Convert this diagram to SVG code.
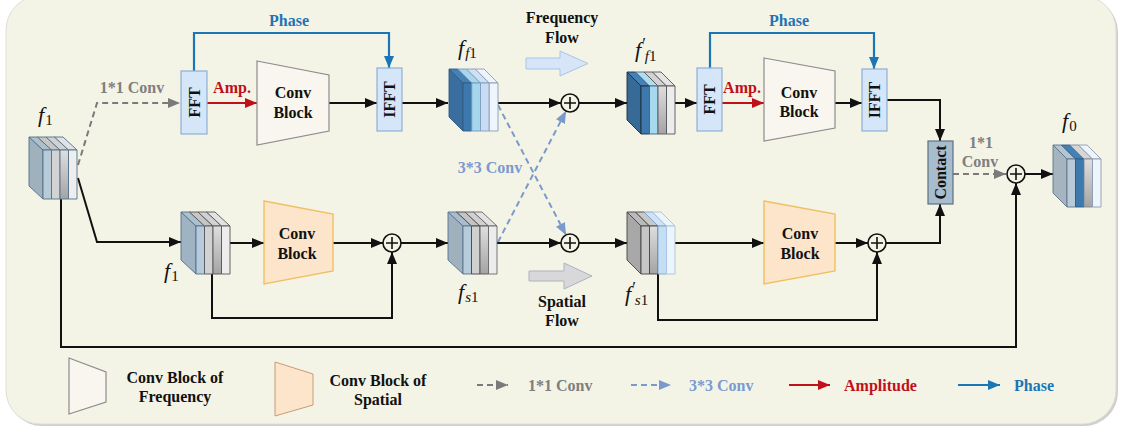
<svg xmlns="http://www.w3.org/2000/svg" width="1121" height="430" viewBox="0 0 1121 430">
  <defs>
    <style>
      .t { font-family: "Liberation Serif", "Times New Roman", Times, serif; font-weight: bold; font-size: 16px; fill: #111; }
      .c { text-anchor: middle; }
      .blue { fill: #1c76b6; }
      .red { fill: #c0101a; }
      .grey { fill: #7f7f7f; }
      .lblue { fill: #7b9ad0; }
      .m { font-family: "Liberation Serif", "Times New Roman", Times, serif; font-style: italic; font-size: 22px; fill: #111; }
      .sub { font-size: 15px; font-style: normal; }
      .subi { font-size: 15px; font-style: italic; }
      .pr { font-size: 17px; font-style: normal; }
      .ln { fill: none; stroke: #111; stroke-width: 2; }
      .ln-red { fill: none; stroke: #c0101a; stroke-width: 2.2; }
      .ln-blue { fill: none; stroke: #1c76b6; stroke-width: 2.2; }
      .ln-grey { fill: none; stroke: #7a7a7a; stroke-width: 2; stroke-dasharray: 6 4; }
      .ln-lblue { fill: none; stroke: #7a9acc; stroke-width: 2; stroke-dasharray: 6 4; }
      .fbox { fill: #d5e6f8; stroke: #8eafd6; stroke-width: 1.2; }
      .cbf { fill: #f8f6ee; stroke: #8c8c8c; stroke-width: 1.2; }
      .cbs { fill: #fde5cb; stroke: #eec060; stroke-width: 1.4; }
      .plus circle { fill: #f4f4e6; stroke: #111; stroke-width: 1.6; }
      .plus path { stroke: #111; stroke-width: 1.6; }
      .cube * { stroke-width: 0.9; stroke-linejoin: round; }
    </style>
    <linearGradient id="gshade" x1="0" y1="0" x2="0" y2="1">
      <stop offset="0" stop-color="#dedede"/>
      <stop offset="1" stop-color="#a4a4a4"/>
    </linearGradient>
    <marker id="ah" markerUnits="userSpaceOnUse" markerWidth="13" markerHeight="11" refX="12" refY="5.5" orient="auto">
      <path d="M0,0.5 L12,5.5 L0,10.5 z" fill="#111"/>
    </marker>
    <marker id="ah-red" markerUnits="userSpaceOnUse" markerWidth="13" markerHeight="11" refX="12" refY="5.5" orient="auto">
      <path d="M0,0.5 L12,5.5 L0,10.5 z" fill="#c0101a"/>
    </marker>
    <marker id="ah-blue" markerUnits="userSpaceOnUse" markerWidth="13" markerHeight="11" refX="12" refY="5.5" orient="auto">
      <path d="M0,0.5 L12,5.5 L0,10.5 z" fill="#1c76b6"/>
    </marker>
    <marker id="ah-grey" markerUnits="userSpaceOnUse" markerWidth="13" markerHeight="11" refX="12" refY="5.5" orient="auto">
      <path d="M0,0.5 L12,5.5 L0,10.5 z" fill="#7a7a7a"/>
    </marker>
    <marker id="ah-lblue" markerUnits="userSpaceOnUse" markerWidth="13" markerHeight="11" refX="12" refY="5.5" orient="auto">
      <path d="M0,0.5 L12,5.5 L0,10.5 z" fill="#7a9acc"/>
    </marker>
  </defs>

  <!-- panel -->
  <rect width="1121" height="430" fill="#ffffff"/>
  <rect x="8" y="-2" width="1110" height="428" rx="34" fill="#cfcfcc"/>
  <rect x="6" y="-4" width="1110" height="428" rx="34" fill="#f4f4e6" stroke="#deded6" stroke-width="1"/>

  <!-- connectors -->
  <g id="connectors">
    <!-- frequency branch -->
    <path class="ln-grey" d="M78,165 L97,103 H180" marker-end="url(#ah-grey)"/>
    <path class="ln-red" d="M207,103 H257" marker-end="url(#ah-red)"/>
    <path class="ln" d="M329,103 H377" marker-end="url(#ah)"/>
    <path class="ln-blue" d="M194,71 V33 H389 V68" marker-end="url(#ah-blue)"/>
    <path class="ln" d="M402,103 H448" marker-end="url(#ah)"/>
    <path class="ln" d="M498,103 H561" marker-end="url(#ah)"/>
    <path class="ln" d="M579,103 H627" marker-end="url(#ah)"/>
    <path class="ln" d="M675,103 H697" marker-end="url(#ah)"/>
    <path class="ln-red" d="M722,103 H764" marker-end="url(#ah-red)"/>
    <path class="ln" d="M835,103 H862" marker-end="url(#ah)"/>
    <path class="ln-blue" d="M710,68 V33 H874 V69" marker-end="url(#ah-blue)"/>
    <path class="ln" d="M887,100 H940 V141" marker-end="url(#ah)"/>
    <path class="ln-grey" d="M953,174 H1006" marker-end="url(#ah-grey)"/>
    <path class="ln" d="M1025,174 H1053" marker-end="url(#ah)"/>
    <!-- cross 3*3 convs -->
    <path class="ln-lblue" d="M498,105 L566,235" marker-end="url(#ah-lblue)"/>
    <path class="ln-lblue" d="M498,242 L566,111" marker-end="url(#ah-lblue)"/>
    <!-- spatial branch -->
    <path class="ln" d="M78,178 L97,242 H181" marker-end="url(#ah)"/>
    <path class="ln" d="M230,243 H264" marker-end="url(#ah)"/>
    <path class="ln" d="M333,243 H383" marker-end="url(#ah)"/>
    <path class="ln" d="M212,274 V318 H392 V252" marker-end="url(#ah)"/>
    <path class="ln" d="M401,243 H448" marker-end="url(#ah)"/>
    <path class="ln" d="M497,243 H561" marker-end="url(#ah)"/>
    <path class="ln" d="M579,243 H627" marker-end="url(#ah)"/>
    <path class="ln" d="M675,243 H764" marker-end="url(#ah)"/>
    <path class="ln" d="M658,274 V320 H877 V252" marker-end="url(#ah)"/>
    <path class="ln" d="M835,243 H868" marker-end="url(#ah)"/>
    <path class="ln" d="M886,243 H940 V204" marker-end="url(#ah)"/>
    <!-- global residual -->
    <path class="ln" d="M61,199 V347 H1016 V183" marker-end="url(#ah)"/>
  </g>

  <!-- labels on connectors -->
  <g id="edge-labels">
    <text class="t c blue" x="289" y="26">Phase</text>
    <text class="t c blue" x="789" y="26">Phase</text>
    <text class="t c grey" x="132" y="93">1*1 Conv</text>
    <text class="t c red" x="232" y="93">Amp.</text>
    <text class="t c red" x="742" y="93">Amp.</text>
    <text class="t c lblue" x="490" y="173">3*3 Conv</text>
    <text class="t c grey" x="981" y="148">1*1</text>
    <text class="t c grey" x="980" y="167">Conv</text>
  </g>

  <!-- flow arrows -->
  <g id="freq-flow">
    <polygon points="526,58 560,58 560,51 588,63.5 560,76 560,69 526,69" fill="#d6e6f8" stroke="#a9c4e6" stroke-width="1"/>
    <text class="t c" x="562" y="23">Frequency</text>
    <text class="t c" x="562" y="43">Flow</text>
  </g>
  <g id="spatial-flow">
    <polygon points="529,271 564,271 564,263 592,276 564,289 564,281 529,281" fill="#d8d8da" stroke="#aeb2c0" stroke-width="1"/>
    <text class="t c" x="562" y="307">Spatial</text>
    <text class="t c" x="562" y="326">Flow</text>
  </g>

  <!-- input feature f1 -->
  <g id="f1-in" class="cube">
    <polygon points="43,150 29,137 29,186 43,199" fill="#a0b1be" stroke="#50708a"/>
    <polygon points="43,150 29,137 37.5,137 51.5,150" fill="#aebfcc" stroke="#50708a"/>
    <polygon points="51.5,150 37.5,137 46,137 60,150" fill="#c6c6c6" stroke="#50708a"/>
    <polygon points="60,150 46,137 54.5,137 68.5,150" fill="#d2d2d2" stroke="#50708a"/>
    <polygon points="68.5,150 54.5,137 63,137 77,150" fill="#e2e2e2" stroke="#50708a"/>
    <rect x="43" y="150" width="8.5" height="49" fill="#b8cbd9" stroke="#50708a"/>
    <rect x="51.5" y="150" width="8.5" height="49" fill="#d3d3d3" stroke="#50708a"/>
    <rect x="60" y="150" width="8.5" height="49" fill="url(#gshade)" stroke="#50708a"/>
    <rect x="68.5" y="150" width="8.5" height="49" fill="#eeeeee" stroke="#50708a"/>
    <text class="m" x="38" y="122">f<tspan class="sub" dx="1" dy="3">1</tspan></text>
  </g>

  <!-- frequency branch, first stage -->
  <g id="fft-1">
    <rect class="fbox" x="181" y="71" width="26" height="63"/>
    <text class="t c" transform="translate(194,102.5) rotate(-90)" dominant-baseline="central">FFT</text>
  </g>
  <g id="convblock-f1">
    <polygon class="cbf" points="257,61 329,75 329,131 257,145"/>
    <text class="t c" x="293" y="98">Conv</text>
    <text class="t c" x="293" y="118">Block</text>
  </g>
  <g id="ifft-1">
    <rect class="fbox" x="377" y="68" width="25" height="63"/>
    <text class="t c" transform="translate(389.5,99.5) rotate(-90)" dominant-baseline="central">IFFT</text>
  </g>

  <!-- f_f1 -->
  <g id="f-f1" class="cube">
    <polygon points="463,83 449,69 449,117 463,131" fill="#3a6e9e" stroke="#2d5b85"/>
    <polygon points="463,83 449,69 457.75,69 471.75,83" fill="#4680b4" stroke="#2d5b85"/>
    <polygon points="471.75,83 457.75,69 466.5,69 480.5,83" fill="#a9d6ea" stroke="#6f98bc"/>
    <polygon points="480.5,83 466.5,69 475.25,69 489.25,83" fill="#cfe0f4" stroke="#7f9cbc"/>
    <polygon points="489.25,83 475.25,69 484,69 498,83" fill="#eef4fb" stroke="#8a9cb0"/>
    <rect x="463" y="83" width="8.75" height="48" fill="#3d79ae" stroke="#2d5b85"/>
    <rect x="471.75" y="83" width="8.75" height="48" fill="#a6d6ec" stroke="#6f98bc"/>
    <rect x="480.5" y="83" width="8.75" height="48" fill="#c8dcf4" stroke="#7f9cbc"/>
    <rect x="489.25" y="83" width="8.75" height="48" fill="#eff5fc" stroke="#8a9cb0"/>
    <text class="m" x="458" y="55">f<tspan class="subi" dx="1" dy="3">f</tspan><tspan class="sub">1</tspan></text>
  </g>

  <g id="plus-f" class="plus">
    <circle cx="570" cy="103" r="9"/>
    <path d="M564,103 H576 M570,97 V109"/>
  </g>

  <!-- f'_f1 -->
  <g id="f-f1-prime" class="cube">
    <polygon points="641,86 627,72 627,120 641,134" fill="#386a97" stroke="#1e2e3e"/>
    <polygon points="641,86 627,72 635.5,72 649.5,86" fill="#4581b6" stroke="#1e2e3e"/>
    <polygon points="649.5,86 635.5,72 644,72 658,86" fill="#aedcf0" stroke="#4a6a80"/>
    <polygon points="658,86 644,72 652.5,72 666.5,86" fill="#d2d2d2" stroke="#555"/>
    <polygon points="666.5,86 652.5,72 661,72 675,86" fill="#e4e4e4" stroke="#555"/>
    <rect x="641" y="86" width="8.5" height="48" fill="#3e79ae" stroke="#1e2e3e"/>
    <rect x="649.5" y="86" width="8.5" height="48" fill="#a6d8ee" stroke="#3f6680"/>
    <rect x="658" y="86" width="8.5" height="48" fill="url(#gshade)" stroke="#555"/>
    <rect x="666.5" y="86" width="8.5" height="48" fill="#ececec" stroke="#555"/>
    <text class="m" x="635" y="57">f<tspan class="pr" dx="1" dy="-8">′</tspan><tspan class="subi" dx="-1" dy="12">f</tspan><tspan class="sub">1</tspan></text>
  </g>

  <!-- frequency branch, second stage -->
  <g id="fft-2">
    <rect class="fbox" x="697" y="68" width="25" height="63"/>
    <text class="t c" transform="translate(709.5,99.5) rotate(-90)" dominant-baseline="central">FFT</text>
  </g>
  <g id="convblock-f2">
    <polygon class="cbf" points="764,58 835,71 835,128 764,141"/>
    <text class="t c" x="799" y="98">Conv</text>
    <text class="t c" x="799" y="117">Block</text>
  </g>
  <g id="ifft-2">
    <rect class="fbox" x="862" y="69" width="25" height="62"/>
    <text class="t c" transform="translate(874.5,100) rotate(-90)" dominant-baseline="central">IFFT</text>
  </g>

  <!-- fusion -->
  <g id="contact">
    <rect x="928" y="141" width="25" height="63" fill="#a7bccc" stroke="#5b7283" stroke-width="1.2"/>
    <text class="t c" font-size="15" transform="translate(940.5,172.5) rotate(-90)" dominant-baseline="central">Contact</text>
  </g>
  <g id="plus-out" class="plus">
    <circle cx="1016" cy="174" r="9"/>
    <path d="M1010,174 H1022 M1016,168 V180"/>
  </g>

  <!-- output f0 -->
  <g id="f0" class="cube">
    <polygon points="1067,159 1053,145 1053,193 1067,207" fill="#a6b4c0" stroke="#5c7488"/>
    <polygon points="1067,159 1053,145 1061.5,145 1075.5,159" fill="#b4c5d2" stroke="#5c7488"/>
    <polygon points="1075.5,159 1061.5,145 1070,145 1084,159" fill="#4681b6" stroke="#2d5b85"/>
    <polygon points="1084,159 1070,145 1078.5,145 1092.5,159" fill="#d6d6d6" stroke="#7a8a9a"/>
    <polygon points="1092.5,159 1078.5,145 1087,145 1101,159" fill="#eef4fb" stroke="#8a9cb0"/>
    <rect x="1067" y="159" width="8.5" height="48" fill="#b8cad8" stroke="#5c7488"/>
    <rect x="1075.5" y="159" width="8.5" height="48" fill="#3e79ae" stroke="#2d5b85"/>
    <rect x="1084" y="159" width="8.5" height="48" fill="url(#gshade)" stroke="#7a8a9a"/>
    <rect x="1092.5" y="159" width="8.5" height="48" fill="#eff5fc" stroke="#8a9cb0"/>
    <text class="m" x="1062" y="128">f<tspan class="sub" dx="1" dy="3">0</tspan></text>
  </g>

  <!-- spatial branch -->
  <g id="f1-sp" class="cube">
    <polygon points="196,226 181,212 181,260 196,274" fill="#a0b3c3" stroke="#50708a"/>
    <polygon points="196,226 181,212 189.5,212 204.5,226" fill="#aec0ce" stroke="#50708a"/>
    <polygon points="204.5,226 189.5,212 198,212 213,226" fill="#c6c6c6" stroke="#555"/>
    <polygon points="213,226 198,212 206.5,212 221.5,226" fill="#d2d2d2" stroke="#555"/>
    <polygon points="221.5,226 206.5,212 215,212 230,226" fill="#e2e2e2" stroke="#555"/>
    <rect x="196" y="226" width="8.5" height="48" fill="#b6cbdb" stroke="#50708a"/>
    <rect x="204.5" y="226" width="8.5" height="48" fill="#d2d2d2" stroke="#555"/>
    <rect x="213" y="226" width="8.5" height="48" fill="url(#gshade)" stroke="#555"/>
    <rect x="221.5" y="226" width="8.5" height="48" fill="#ededed" stroke="#555"/>
    <text class="m" x="164" y="278">f<tspan class="sub" dx="1" dy="3">1</tspan></text>
  </g>
  <g id="convblock-s1">
    <polygon class="cbs" points="264,201 333,214 333,271 264,284"/>
    <text class="t c" x="297" y="239">Conv</text>
    <text class="t c" x="297" y="259">Block</text>
  </g>
  <g id="plus-s1" class="plus">
    <circle cx="392" cy="243" r="9"/>
    <path d="M386,243 H398 M392,237 V249"/>
  </g>

  <!-- f_s1 -->
  <g id="f-s1" class="cube">
    <polygon points="463,226 448,212 448,260 463,274" fill="#a0b0bd" stroke="#557590"/>
    <polygon points="463,226 448,212 456.5,212 471.5,226" fill="#aabccb" stroke="#557590"/>
    <polygon points="471.5,226 456.5,212 465,212 480,226" fill="#c4c4c4" stroke="#444"/>
    <polygon points="480,226 465,212 473.5,212 488.5,226" fill="#d0d0d0" stroke="#555"/>
    <polygon points="488.5,226 473.5,212 482,212 497,226" fill="#e2e2e2" stroke="#666"/>
    <rect x="463" y="226" width="8.5" height="48" fill="#b6ccdb" stroke="#557590"/>
    <rect x="471.5" y="226" width="8.5" height="48" fill="#d0d0d0" stroke="#444"/>
    <rect x="480" y="226" width="8.5" height="48" fill="url(#gshade)" stroke="#555"/>
    <rect x="488.5" y="226" width="8.5" height="48" fill="#ececec" stroke="#666"/>
    <text class="m" x="458" y="299">f<tspan class="subi" dx="1" dy="3">s</tspan><tspan class="sub">1</tspan></text>
  </g>

  <g id="plus-s" class="plus">
    <circle cx="570" cy="243" r="9"/>
    <path d="M564,243 H576 M570,237 V249"/>
  </g>

  <!-- f'_s1 -->
  <g id="f-s1-prime" class="cube">
    <polygon points="641,226 627,212 627,260 641,274" fill="#a8a8a8" stroke="#444"/>
    <polygon points="641,226 627,212 635.5,212 649.5,226" fill="#bababa" stroke="#444"/>
    <polygon points="649.5,226 635.5,212 644,212 658,226" fill="#c8c8c8" stroke="#444"/>
    <polygon points="658,226 644,212 652.5,212 666.5,226" fill="#cfe2f6" stroke="#7fa3c8"/>
    <polygon points="666.5,226 652.5,212 661,212 675,226" fill="#edf5fc" stroke="#a9c2dc"/>
    <rect x="641" y="226" width="8.5" height="48" fill="#c6c6c6" stroke="#444"/>
    <rect x="649.5" y="226" width="8.5" height="48" fill="url(#gshade)" stroke="#444"/>
    <rect x="658" y="226" width="8.5" height="48" fill="#c4def6" stroke="#7fa3c8"/>
    <rect x="666.5" y="226" width="8.5" height="48" fill="#ebf5fd" stroke="#a9c2dc"/>
    <text class="m" x="625" y="301">f<tspan class="pr" dx="1" dy="-8">′</tspan><tspan class="subi" dx="-1" dy="12">s</tspan><tspan class="sub">1</tspan></text>
  </g>

  <g id="convblock-s2">
    <polygon class="cbs" points="764,201 835,214 835,271 764,284"/>
    <text class="t c" x="800" y="239">Conv</text>
    <text class="t c" x="800" y="259">Block</text>
  </g>
  <g id="plus-s2" class="plus">
    <circle cx="877" cy="243" r="9"/>
    <path d="M871,243 H883 M877,237 V249"/>
  </g>

  <!-- legend -->
  <g id="legend">
    <polygon class="cbf" points="69,358 106,372 106,402 69,414" stroke-width="1"/>
    <text class="t c" x="175" y="383">Conv Block of</text>
    <text class="t c" x="175" y="402">Frequency</text>
    <polygon points="275,362 313,374 313,405 275,416" fill="#fde5cb" stroke="#c89a78" stroke-width="1"/>
    <text class="t c" x="378" y="386">Conv Block of</text>
    <text class="t c" x="378" y="405">Spatial</text>
    <path class="ln-grey" d="M477,385 H508" stroke-dasharray="5 4" marker-end="url(#ah-grey)"/>
    <text class="t grey" x="528" y="391">1*1 Conv</text>
    <path class="ln-lblue" d="M631,385 H671" stroke-dasharray="5 4" marker-end="url(#ah-lblue)"/>
    <text class="t lblue" x="689" y="391">3*3 Conv</text>
    <path class="ln-red" d="M789,385 H830" marker-end="url(#ah-red)"/>
    <text class="t red" x="844" y="391">Amplitude</text>
    <path class="ln-blue" d="M958,385 H1000" marker-end="url(#ah-blue)"/>
    <text class="t blue" x="1014" y="391">Phase</text>
  </g>
</svg>
